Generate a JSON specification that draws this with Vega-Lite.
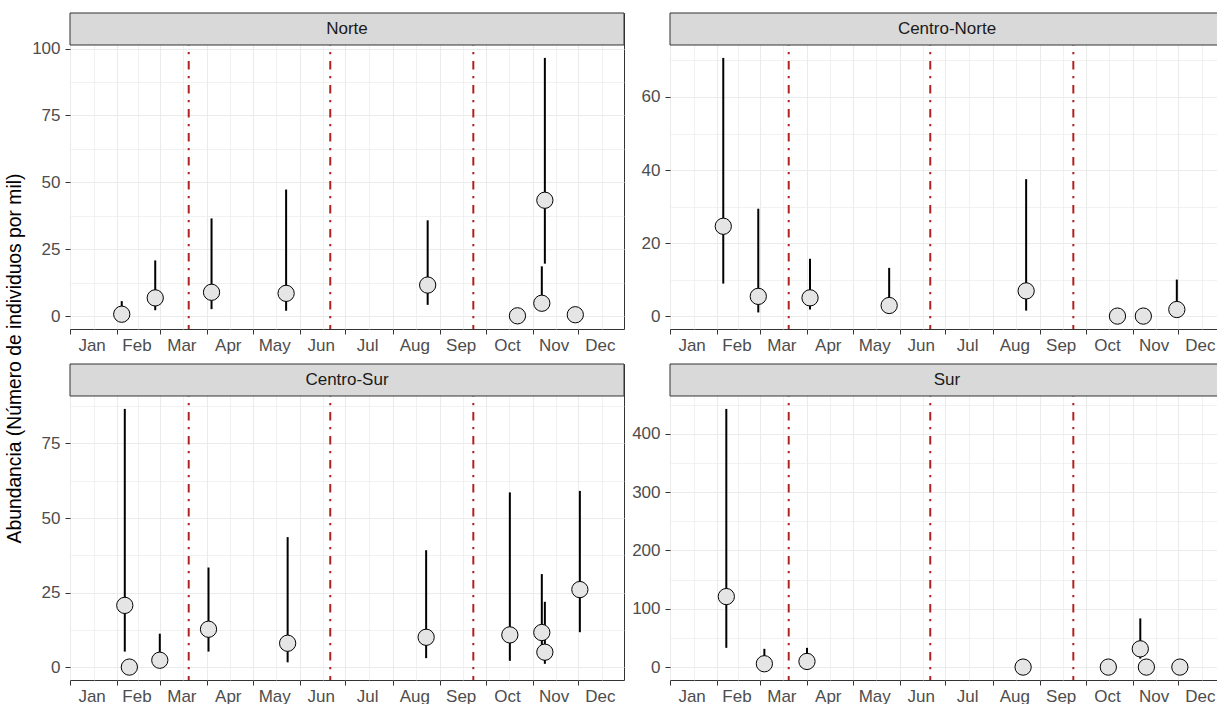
{
  "$schema": "https://vega.github.io/schema/vega-lite/v6.json",
  "padding": {"left": 5, "top": 11, "right": 0, "bottom": 0},
  "title": {
    "text": "Abundancia (Número de individuos por mil)",
    "orient": "left",
    "anchor": "middle",
    "fontSize": 19.3,
    "fontWeight": "normal",
    "font": "Liberation Sans",
    "color": "#000000",
    "offset": 6
  },
  "datasets": {
    "estaciones": [
      {"fecha": "2019-03-20"},
      {"fecha": "2019-06-21"},
      {"fecha": "2019-09-23"}
    ],
    "muestreos": [
      {"region": "Norte", "fecha": "2019-02-04", "valor": 0.7, "inf": 0, "sup": 5.6},
      {"region": "Norte", "fecha": "2019-02-26", "valor": 6.8, "inf": 2.2, "sup": 20.8},
      {"region": "Norte", "fecha": "2019-04-04", "valor": 8.9, "inf": 2.6, "sup": 36.5},
      {"region": "Norte", "fecha": "2019-05-23", "valor": 8.5, "inf": 2.0, "sup": 47.3},
      {"region": "Norte", "fecha": "2019-08-24", "valor": 11.6, "inf": 4.2, "sup": 35.8},
      {"region": "Norte", "fecha": "2019-10-22", "valor": 0.1, "inf": 0.1, "sup": 0.1},
      {"region": "Norte", "fecha": "2019-11-07", "valor": 4.8, "inf": 2.2, "sup": 18.6},
      {"region": "Norte", "fecha": "2019-11-09", "valor": 43.3, "inf": 19.6, "sup": 96.5},
      {"region": "Norte", "fecha": "2019-11-29", "valor": 0.5, "inf": 0.5, "sup": 0.5},
      {"region": "Centro-Norte", "fecha": "2019-02-05", "valor": 24.6, "inf": 8.9, "sup": 70.7},
      {"region": "Centro-Norte", "fecha": "2019-02-28", "valor": 5.4, "inf": 1.0, "sup": 29.4},
      {"region": "Centro-Norte", "fecha": "2019-04-03", "valor": 5.0, "inf": 1.8, "sup": 15.7},
      {"region": "Centro-Norte", "fecha": "2019-05-25", "valor": 2.9, "inf": 0.8, "sup": 13.2},
      {"region": "Centro-Norte", "fecha": "2019-08-23", "valor": 6.9, "inf": 1.5, "sup": 37.5},
      {"region": "Centro-Norte", "fecha": "2019-10-22", "valor": 0, "inf": 0, "sup": 0},
      {"region": "Centro-Norte", "fecha": "2019-11-08", "valor": 0, "inf": 0, "sup": 0},
      {"region": "Centro-Norte", "fecha": "2019-11-30", "valor": 1.8, "inf": 0.5, "sup": 10.0},
      {"region": "Centro-Sur", "fecha": "2019-02-06", "valor": 20.7, "inf": 5.2, "sup": 86.6},
      {"region": "Centro-Sur", "fecha": "2019-02-09", "valor": 0, "inf": 0, "sup": 0},
      {"region": "Centro-Sur", "fecha": "2019-03-01", "valor": 2.3, "inf": 0.5, "sup": 11.2},
      {"region": "Centro-Sur", "fecha": "2019-04-02", "valor": 12.7, "inf": 5.2, "sup": 33.4},
      {"region": "Centro-Sur", "fecha": "2019-05-24", "valor": 8.0, "inf": 1.6, "sup": 43.6},
      {"region": "Centro-Sur", "fecha": "2019-08-23", "valor": 10.0, "inf": 3.0, "sup": 39.2},
      {"region": "Centro-Sur", "fecha": "2019-10-17", "valor": 10.8, "inf": 2.1, "sup": 58.6},
      {"region": "Centro-Sur", "fecha": "2019-11-07", "valor": 11.6, "inf": 6.0, "sup": 31.2},
      {"region": "Centro-Sur", "fecha": "2019-11-09", "valor": 5.0, "inf": 1.1, "sup": 21.9},
      {"region": "Centro-Sur", "fecha": "2019-12-02", "valor": 26.0, "inf": 11.7, "sup": 59.1},
      {"region": "Sur", "fecha": "2019-02-07", "valor": 120.9, "inf": 33, "sup": 442.6},
      {"region": "Sur", "fecha": "2019-03-04", "valor": 5.7, "inf": 1, "sup": 31.3},
      {"region": "Sur", "fecha": "2019-04-01", "valor": 9.7, "inf": 2, "sup": 33},
      {"region": "Sur", "fecha": "2019-08-21", "valor": 0, "inf": 0, "sup": 0},
      {"region": "Sur", "fecha": "2019-10-16", "valor": 0, "inf": 0, "sup": 0},
      {"region": "Sur", "fecha": "2019-11-06", "valor": 31.3, "inf": 14.5, "sup": 83.4},
      {"region": "Sur", "fecha": "2019-11-10", "valor": 0, "inf": 0, "sup": 0},
      {"region": "Sur", "fecha": "2019-12-02", "valor": 0, "inf": 0, "sup": 0}
    ]
  },
  "columns": 2,
  "spacing": {"row": 7, "column": 6},
  "concat": [
    {
      "width": 554, "height": 316,
      "layer": [
        {
          "data": {"name": "estaciones"},
          "mark": {"type": "rule", "color": "#B22222", "strokeWidth": 2, "strokeDash": [8.5, 6.5, 2.3, 6.7]},
          "encoding": {
            "x": {"field": "fecha", "type": "temporal", "title": null,
              "scale": {"type": "utc", "domain": [{"year": 2019, "month": 1, "date": 1, "utc": true}, {"year": 2019, "month": 12, "date": 31, "utc": true}], "nice": false},
              "axis": {
                "values": [
                  {"year": 2019, "month": 1, "date": 1, "utc": true}, {"year": 2019, "month": 1, "date": 16, "hours": 12, "utc": true},
                  {"year": 2019, "month": 2, "date": 1, "utc": true}, {"year": 2019, "month": 2, "date": 15, "utc": true},
                  {"year": 2019, "month": 3, "date": 1, "utc": true}, {"year": 2019, "month": 3, "date": 16, "hours": 12, "utc": true},
                  {"year": 2019, "month": 4, "date": 1, "utc": true}, {"year": 2019, "month": 4, "date": 16, "utc": true},
                  {"year": 2019, "month": 5, "date": 1, "utc": true}, {"year": 2019, "month": 5, "date": 16, "hours": 12, "utc": true},
                  {"year": 2019, "month": 6, "date": 1, "utc": true}, {"year": 2019, "month": 6, "date": 16, "utc": true},
                  {"year": 2019, "month": 7, "date": 1, "utc": true}, {"year": 2019, "month": 7, "date": 16, "hours": 12, "utc": true},
                  {"year": 2019, "month": 8, "date": 1, "utc": true}, {"year": 2019, "month": 8, "date": 16, "hours": 12, "utc": true},
                  {"year": 2019, "month": 9, "date": 1, "utc": true}, {"year": 2019, "month": 9, "date": 16, "utc": true},
                  {"year": 2019, "month": 10, "date": 1, "utc": true}, {"year": 2019, "month": 10, "date": 16, "hours": 12, "utc": true},
                  {"year": 2019, "month": 11, "date": 1, "utc": true}, {"year": 2019, "month": 11, "date": 16, "utc": true},
                  {"year": 2019, "month": 12, "date": 1, "utc": true}, {"year": 2019, "month": 12, "date": 16, "hours": 12, "utc": true}
                ],
                "labelExpr": "utcdate(datum.value) == 1 ? '' : utcFormat(datum.value, '%b')",
                "tickOpacity": {"condition": {"test": "utcdate(datum.value) == 1", "value": 1}, "value": 0},
                "gridWidth": {"condition": {"test": "utcdate(datum.value) == 1", "value": 1.1}, "value": 0.7}}}
          }
        },
        {
          "data": {"name": "muestreos"},
          "transform": [{"filter": "datum.region == 'Norte'"}],
          "mark": {"type": "rule", "color": "#000000", "strokeWidth": 2},
          "encoding": {
            "x": {"field": "fecha", "type": "temporal"},
            "y": {"field": "inf", "type": "quantitative", "title": null,
              "scale": {"domain": [-4.825, 113.285], "nice": false, "zero": false},
              "axis": {"values": [0, 12.5, 25, 37.5, 50, 62.5, 75, 87.5, 100],
                "labelExpr": "datum.value % 25 == 0 ? datum.label : ''",
                "tickOpacity": {"condition": {"test": "datum.value % 25 == 0", "value": 1}, "value": 0},
                "gridWidth": {"condition": {"test": "datum.value % 25 == 0", "value": 1.1}, "value": 0.7}}},
            "y2": {"field": "sup"}
          }
        },
        {
          "data": {"name": "muestreos"},
          "transform": [{"filter": "datum.region == 'Norte'"}],
          "mark": {"type": "point", "shape": "circle", "filled": true, "fill": "#E5E5E5", "stroke": "#000000", "strokeWidth": 1, "size": 265, "opacity": 1},
          "encoding": {
            "x": {"field": "fecha", "type": "temporal"},
            "y": {"field": "valor", "type": "quantitative"}
          }
        },
        {
          "data": {"values": [{"region": "Norte"}]},
          "layer": [
            {
              "mark": {"type": "rect", "fill": "#D9D9D9", "stroke": "#333333", "strokeWidth": 1},
              "encoding": {
                "x": {"datum": {"year": 2019, "month": 1, "date": 1, "utc": true}, "type": "temporal"},
                "x2": {"datum": {"year": 2019, "month": 12, "date": 31, "utc": true}},
                "y": {"datum": 101.325, "type": "quantitative"},
                "y2": {"datum": 113.285}
              }
            },
            {
              "mark": {"type": "text", "font": "Liberation Sans", "fontSize": 17, "color": "#1A1A1A", "baseline": "middle", "align": "center"},
              "encoding": {
                "y": {"datum": 107.3, "type": "quantitative"},
                "text": {"field": "region"}
              }
            }
          ]
        }
      ]
    },
    {
      "width": 554, "height": 316,
      "layer": [
        {
          "data": {"name": "estaciones"},
          "mark": {"type": "rule", "color": "#B22222", "strokeWidth": 2, "strokeDash": [8.5, 6.5, 2.3, 6.7]},
          "encoding": {
            "x": {"field": "fecha", "type": "temporal", "title": null,
              "scale": {"type": "utc", "domain": [{"year": 2019, "month": 1, "date": 1, "utc": true}, {"year": 2019, "month": 12, "date": 31, "utc": true}], "nice": false},
              "axis": {
                "values": [
                  {"year": 2019, "month": 1, "date": 1, "utc": true}, {"year": 2019, "month": 1, "date": 16, "hours": 12, "utc": true},
                  {"year": 2019, "month": 2, "date": 1, "utc": true}, {"year": 2019, "month": 2, "date": 15, "utc": true},
                  {"year": 2019, "month": 3, "date": 1, "utc": true}, {"year": 2019, "month": 3, "date": 16, "hours": 12, "utc": true},
                  {"year": 2019, "month": 4, "date": 1, "utc": true}, {"year": 2019, "month": 4, "date": 16, "utc": true},
                  {"year": 2019, "month": 5, "date": 1, "utc": true}, {"year": 2019, "month": 5, "date": 16, "hours": 12, "utc": true},
                  {"year": 2019, "month": 6, "date": 1, "utc": true}, {"year": 2019, "month": 6, "date": 16, "utc": true},
                  {"year": 2019, "month": 7, "date": 1, "utc": true}, {"year": 2019, "month": 7, "date": 16, "hours": 12, "utc": true},
                  {"year": 2019, "month": 8, "date": 1, "utc": true}, {"year": 2019, "month": 8, "date": 16, "hours": 12, "utc": true},
                  {"year": 2019, "month": 9, "date": 1, "utc": true}, {"year": 2019, "month": 9, "date": 16, "utc": true},
                  {"year": 2019, "month": 10, "date": 1, "utc": true}, {"year": 2019, "month": 10, "date": 16, "hours": 12, "utc": true},
                  {"year": 2019, "month": 11, "date": 1, "utc": true}, {"year": 2019, "month": 11, "date": 16, "utc": true},
                  {"year": 2019, "month": 12, "date": 1, "utc": true}, {"year": 2019, "month": 12, "date": 16, "hours": 12, "utc": true}
                ],
                "labelExpr": "utcdate(datum.value) == 1 ? '' : utcFormat(datum.value, '%b')",
                "tickOpacity": {"condition": {"test": "utcdate(datum.value) == 1", "value": 1}, "value": 0},
                "gridWidth": {"condition": {"test": "utcdate(datum.value) == 1", "value": 1.1}, "value": 0.7}}}
          }
        },
        {
          "data": {"name": "muestreos"},
          "transform": [{"filter": "datum.region == 'Centro-Norte'"}],
          "mark": {"type": "rule", "color": "#000000", "strokeWidth": 2},
          "encoding": {
            "x": {"field": "fecha", "type": "temporal"},
            "y": {"field": "inf", "type": "quantitative", "title": null,
              "scale": {"domain": [-3.535, 82.998], "nice": false, "zero": false},
              "axis": {"values": [0, 10, 20, 30, 40, 50, 60, 70],
                "labelExpr": "datum.value % 20 == 0 ? datum.label : ''",
                "tickOpacity": {"condition": {"test": "datum.value % 20 == 0", "value": 1}, "value": 0},
                "gridWidth": {"condition": {"test": "datum.value % 20 == 0", "value": 1.1}, "value": 0.7}}},
            "y2": {"field": "sup"}
          }
        },
        {
          "data": {"name": "muestreos"},
          "transform": [{"filter": "datum.region == 'Centro-Norte'"}],
          "mark": {"type": "point", "shape": "circle", "filled": true, "fill": "#E5E5E5", "stroke": "#000000", "strokeWidth": 1, "size": 265, "opacity": 1},
          "encoding": {
            "x": {"field": "fecha", "type": "temporal"},
            "y": {"field": "valor", "type": "quantitative"}
          }
        },
        {
          "data": {"values": [{"region": "Centro-Norte"}]},
          "layer": [
            {
              "mark": {"type": "rect", "fill": "#D9D9D9", "stroke": "#333333", "strokeWidth": 1},
              "encoding": {
                "x": {"datum": {"year": 2019, "month": 1, "date": 1, "utc": true}, "type": "temporal"},
                "x2": {"datum": {"year": 2019, "month": 12, "date": 31, "utc": true}},
                "y": {"datum": 74.235, "type": "quantitative"},
                "y2": {"datum": 82.998}
              }
            },
            {
              "mark": {"type": "text", "font": "Liberation Sans", "fontSize": 17, "color": "#1A1A1A", "baseline": "middle", "align": "center"},
              "encoding": {
                "y": {"datum": 78.62, "type": "quantitative"},
                "text": {"field": "region"}
              }
            }
          ]
        }
      ]
    },
    {
      "width": 554, "height": 316,
      "layer": [
        {
          "data": {"name": "estaciones"},
          "mark": {"type": "rule", "color": "#B22222", "strokeWidth": 2, "strokeDash": [8.5, 6.5, 2.3, 6.7]},
          "encoding": {
            "x": {"field": "fecha", "type": "temporal", "title": null,
              "scale": {"type": "utc", "domain": [{"year": 2019, "month": 1, "date": 1, "utc": true}, {"year": 2019, "month": 12, "date": 31, "utc": true}], "nice": false},
              "axis": {
                "values": [
                  {"year": 2019, "month": 1, "date": 1, "utc": true}, {"year": 2019, "month": 1, "date": 16, "hours": 12, "utc": true},
                  {"year": 2019, "month": 2, "date": 1, "utc": true}, {"year": 2019, "month": 2, "date": 15, "utc": true},
                  {"year": 2019, "month": 3, "date": 1, "utc": true}, {"year": 2019, "month": 3, "date": 16, "hours": 12, "utc": true},
                  {"year": 2019, "month": 4, "date": 1, "utc": true}, {"year": 2019, "month": 4, "date": 16, "utc": true},
                  {"year": 2019, "month": 5, "date": 1, "utc": true}, {"year": 2019, "month": 5, "date": 16, "hours": 12, "utc": true},
                  {"year": 2019, "month": 6, "date": 1, "utc": true}, {"year": 2019, "month": 6, "date": 16, "utc": true},
                  {"year": 2019, "month": 7, "date": 1, "utc": true}, {"year": 2019, "month": 7, "date": 16, "hours": 12, "utc": true},
                  {"year": 2019, "month": 8, "date": 1, "utc": true}, {"year": 2019, "month": 8, "date": 16, "hours": 12, "utc": true},
                  {"year": 2019, "month": 9, "date": 1, "utc": true}, {"year": 2019, "month": 9, "date": 16, "utc": true},
                  {"year": 2019, "month": 10, "date": 1, "utc": true}, {"year": 2019, "month": 10, "date": 16, "hours": 12, "utc": true},
                  {"year": 2019, "month": 11, "date": 1, "utc": true}, {"year": 2019, "month": 11, "date": 16, "utc": true},
                  {"year": 2019, "month": 12, "date": 1, "utc": true}, {"year": 2019, "month": 12, "date": 16, "hours": 12, "utc": true}
                ],
                "labelExpr": "utcdate(datum.value) == 1 ? '' : utcFormat(datum.value, '%b')",
                "tickOpacity": {"condition": {"test": "utcdate(datum.value) == 1", "value": 1}, "value": 0},
                "gridWidth": {"condition": {"test": "utcdate(datum.value) == 1", "value": 1.1}, "value": 0.7}}}
          }
        },
        {
          "data": {"name": "muestreos"},
          "transform": [{"filter": "datum.region == 'Centro-Sur'"}],
          "mark": {"type": "rule", "color": "#000000", "strokeWidth": 2},
          "encoding": {
            "x": {"field": "fecha", "type": "temporal"},
            "y": {"field": "inf", "type": "quantitative", "title": null,
              "scale": {"domain": [-4.33, 101.663], "nice": false, "zero": false},
              "axis": {"values": [0, 12.5, 25, 37.5, 50, 62.5, 75, 87.5],
                "labelExpr": "datum.value % 25 == 0 ? datum.label : ''",
                "tickOpacity": {"condition": {"test": "datum.value % 25 == 0", "value": 1}, "value": 0},
                "gridWidth": {"condition": {"test": "datum.value % 25 == 0", "value": 1.1}, "value": 0.7}}},
            "y2": {"field": "sup"}
          }
        },
        {
          "data": {"name": "muestreos"},
          "transform": [{"filter": "datum.region == 'Centro-Sur'"}],
          "mark": {"type": "point", "shape": "circle", "filled": true, "fill": "#E5E5E5", "stroke": "#000000", "strokeWidth": 1, "size": 265, "opacity": 1},
          "encoding": {
            "x": {"field": "fecha", "type": "temporal"},
            "y": {"field": "valor", "type": "quantitative"}
          }
        },
        {
          "data": {"values": [{"region": "Centro-Sur"}]},
          "layer": [
            {
              "mark": {"type": "rect", "fill": "#D9D9D9", "stroke": "#333333", "strokeWidth": 1},
              "encoding": {
                "x": {"datum": {"year": 2019, "month": 1, "date": 1, "utc": true}, "type": "temporal"},
                "x2": {"datum": {"year": 2019, "month": 12, "date": 31, "utc": true}},
                "y": {"datum": 90.93, "type": "quantitative"},
                "y2": {"datum": 101.663}
              }
            },
            {
              "mark": {"type": "text", "font": "Liberation Sans", "fontSize": 17, "color": "#1A1A1A", "baseline": "middle", "align": "center"},
              "encoding": {
                "y": {"datum": 96.3, "type": "quantitative"},
                "text": {"field": "region"}
              }
            }
          ]
        }
      ]
    },
    {
      "width": 554, "height": 316,
      "layer": [
        {
          "data": {"name": "estaciones"},
          "mark": {"type": "rule", "color": "#B22222", "strokeWidth": 2, "strokeDash": [8.5, 6.5, 2.3, 6.7]},
          "encoding": {
            "x": {"field": "fecha", "type": "temporal", "title": null,
              "scale": {"type": "utc", "domain": [{"year": 2019, "month": 1, "date": 1, "utc": true}, {"year": 2019, "month": 12, "date": 31, "utc": true}], "nice": false},
              "axis": {
                "values": [
                  {"year": 2019, "month": 1, "date": 1, "utc": true}, {"year": 2019, "month": 1, "date": 16, "hours": 12, "utc": true},
                  {"year": 2019, "month": 2, "date": 1, "utc": true}, {"year": 2019, "month": 2, "date": 15, "utc": true},
                  {"year": 2019, "month": 3, "date": 1, "utc": true}, {"year": 2019, "month": 3, "date": 16, "hours": 12, "utc": true},
                  {"year": 2019, "month": 4, "date": 1, "utc": true}, {"year": 2019, "month": 4, "date": 16, "utc": true},
                  {"year": 2019, "month": 5, "date": 1, "utc": true}, {"year": 2019, "month": 5, "date": 16, "hours": 12, "utc": true},
                  {"year": 2019, "month": 6, "date": 1, "utc": true}, {"year": 2019, "month": 6, "date": 16, "utc": true},
                  {"year": 2019, "month": 7, "date": 1, "utc": true}, {"year": 2019, "month": 7, "date": 16, "hours": 12, "utc": true},
                  {"year": 2019, "month": 8, "date": 1, "utc": true}, {"year": 2019, "month": 8, "date": 16, "hours": 12, "utc": true},
                  {"year": 2019, "month": 9, "date": 1, "utc": true}, {"year": 2019, "month": 9, "date": 16, "utc": true},
                  {"year": 2019, "month": 10, "date": 1, "utc": true}, {"year": 2019, "month": 10, "date": 16, "hours": 12, "utc": true},
                  {"year": 2019, "month": 11, "date": 1, "utc": true}, {"year": 2019, "month": 11, "date": 16, "utc": true},
                  {"year": 2019, "month": 12, "date": 1, "utc": true}, {"year": 2019, "month": 12, "date": 16, "hours": 12, "utc": true}
                ],
                "labelExpr": "utcdate(datum.value) == 1 ? '' : utcFormat(datum.value, '%b')",
                "tickOpacity": {"condition": {"test": "utcdate(datum.value) == 1", "value": 1}, "value": 0},
                "gridWidth": {"condition": {"test": "utcdate(datum.value) == 1", "value": 1.1}, "value": 0.7}}}
          }
        },
        {
          "data": {"name": "muestreos"},
          "transform": [{"filter": "datum.region == 'Sur'"}],
          "mark": {"type": "rule", "color": "#000000", "strokeWidth": 2},
          "encoding": {
            "x": {"field": "fecha", "type": "temporal"},
            "y": {"field": "inf", "type": "quantitative", "title": null,
              "scale": {"domain": [-22.13, 519.587], "nice": false, "zero": false},
              "axis": {"values": [0, 50, 100, 150, 200, 250, 300, 350, 400, 450],
                "labelExpr": "datum.value % 100 == 0 ? datum.label : ''",
                "tickOpacity": {"condition": {"test": "datum.value % 100 == 0", "value": 1}, "value": 0},
                "gridWidth": {"condition": {"test": "datum.value % 100 == 0", "value": 1.1}, "value": 0.7}}},
            "y2": {"field": "sup"}
          }
        },
        {
          "data": {"name": "muestreos"},
          "transform": [{"filter": "datum.region == 'Sur'"}],
          "mark": {"type": "point", "shape": "circle", "filled": true, "fill": "#E5E5E5", "stroke": "#000000", "strokeWidth": 1, "size": 265, "opacity": 1},
          "encoding": {
            "x": {"field": "fecha", "type": "temporal"},
            "y": {"field": "valor", "type": "quantitative"}
          }
        },
        {
          "data": {"values": [{"region": "Sur"}]},
          "layer": [
            {
              "mark": {"type": "rect", "fill": "#D9D9D9", "stroke": "#333333", "strokeWidth": 1},
              "encoding": {
                "x": {"datum": {"year": 2019, "month": 1, "date": 1, "utc": true}, "type": "temporal"},
                "x2": {"datum": {"year": 2019, "month": 12, "date": 31, "utc": true}},
                "y": {"datum": 464.73, "type": "quantitative"},
                "y2": {"datum": 519.587}
              }
            },
            {
              "mark": {"type": "text", "font": "Liberation Sans", "fontSize": 17, "color": "#1A1A1A", "baseline": "middle", "align": "center"},
              "encoding": {
                "y": {"datum": 492.16, "type": "quantitative"},
                "text": {"field": "region"}
              }
            }
          ]
        }
      ]
    }
  ],
  "config": {
    "font": "Liberation Sans",
    "view": {"stroke": "#333333", "strokeWidth": 1},
    "axis": {
      "domain": false,
      "tickColor": "#333333",
      "tickWidth": 1,
      "tickSize": 5,
      "tickCount": 60,
      "labelColor": "#4D4D4D",
      "labelFont": "Liberation Sans",
      "labelFontSize": 17,
      "gridColor": "#EBEBEB",
      "labelOverlap": false,
      "labelFlush": false
    },
    "axisX": {"minExtent": 25, "maxExtent": 25, "labelPadding": 3, "labelOffset": -2},
    "axisY": {"minExtent": 36, "maxExtent": 36, "labelPadding": 5}
  }
}
